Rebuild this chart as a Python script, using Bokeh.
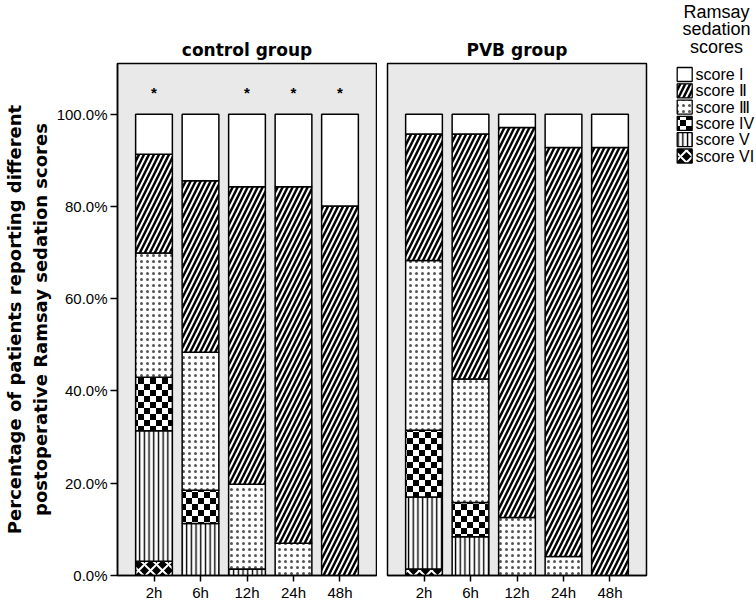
import base64
import struct
import zlib
from bokeh.plotting import figure
from bokeh.models import (ColumnDataSource, FactorRange, Range1d, FixedTicker,
                          PrintfTickFormatter, ImageURLTexture)
from bokeh.layouts import row
from bokeh.core.properties import value
from bokeh.embed import file_html
from bokeh.resources import INLINE

# ---------------- data (percent of patients) ----------------
times = ["2h", "6h", "12h", "24h", "48h"]
score_keys = ["I", "II", "III", "IV", "V", "VI"]
score_names = ["score I", "score Ⅱ", "score Ⅲ", "score IV", "score V", "score VI"]
legend_title = ["Ramsay", "sedation", "scores"]

ctrl_I = [8.7, 14.4, 15.7, 15.7, 19.9]
ctrl_II = [21.4, 37.2, 64.5, 77.3, 80.1]
ctrl_III = [26.9, 29.9, 18.4, 7.0, 0.0]
ctrl_IV = [11.6, 7.2, 0.0, 0.0, 0.0]
ctrl_V = [28.3, 11.3, 1.4, 0.0, 0.0]
ctrl_VI = [3.1, 0.0, 0.0, 0.0, 0.0]

pvb_I = [4.3, 4.3, 2.9, 7.2, 7.2]
pvb_II = [27.4, 53.1, 84.5, 88.7, 92.8]
pvb_III = [36.8, 26.8, 12.6, 4.1, 0.0]
pvb_IV = [14.5, 7.4, 0.0, 0.0, 0.0]
pvb_V = [15.6, 8.4, 0.0, 0.0, 0.0]
pvb_VI = [1.4, 0.0, 0.0, 0.0, 0.0]

ctrl_sig = ["*", "", "*", "*", "*"]
pvb_sig = ["", "", "", "", ""]

y_ticks = [0, 20, 40, 60, 80, 100]

# ---------------- styles ----------------
FONT_BOLD = "DejaVu Sans"
FONT = "Liberation Sans"
PANEL_BG = "#e9e9e9"
H = 603


def _checker_png(n=12, s=6):
    raw = b""
    for yy in range(n):
        line = bytearray([0])
        for xx in range(n):
            v = 0 if ((xx // s) + (yy // s)) % 2 == 0 else 255
            line += bytes([v, v, v])
        raw += bytes(line)

    def chunk(tag, data):
        return (struct.pack(">I", len(data)) + tag + data +
                struct.pack(">I", zlib.crc32(tag + data) & 0xffffffff))

    ihdr = struct.pack(">IIBBBBB", n, n, 8, 2, 0, 0, 0)
    return (b"\x89PNG\r\n\x1a\n" + chunk(b"IHDR", ihdr) +
            chunk(b"IDAT", zlib.compress(raw)) + chunk(b"IEND", b""))


checker = ImageURLTexture(
    url="data:image/png;base64," + base64.b64encode(_checker_png()).decode())
EXTRA = {"checker": checker}

style = {
    "I":   dict(fill="white", hatch=" ", hcolor="black", hweight=1.0, hscale=8),
    "II":  dict(fill="black", hatch="/", hcolor="white", hweight=2.0, hscale=10),
    "III": dict(fill="white", hatch=".", hcolor="#555555", hweight=0.8, hscale=6),
    "IV":  dict(fill="white", hatch="checker", hcolor="black", hweight=1.0, hscale=12),
    "V":   dict(fill="white", hatch="|", hcolor="black", hweight=1.4, hscale=4.7),
    "VI":  dict(fill="black", hatch="x", hcolor="white", hweight=2.0, hscale=12),
}

stack_order = ["VI", "V", "IV", "III", "II", "I"]  # bottom -> top


def make_source(vals, sig):
    d = {"time": times, "sig": sig}
    for k, v in zip(score_keys, vals):
        d[k] = v
    return ColumnDataSource(d)


def make_panel(title, vals, sig, width, border_left, border_right, show_y):
    p = figure(
        x_range=FactorRange(*times, range_padding=0.114),
        y_range=Range1d(0, 111),
        width=width, height=H,
        output_backend="svg", toolbar_location=None,
        min_border_left=border_left, min_border_right=border_right,
        min_border_top=63, min_border_bottom=28,
        title=title,
    )
    p.background_fill_color = PANEL_BG
    p.border_fill_color = "white"
    p.outline_line_color = "black"
    p.outline_line_width = 1.5
    p.xgrid.visible = False
    p.ygrid.visible = False

    p.title.align = "center"
    p.title.text_font = FONT_BOLD
    p.title.text_font_style = "bold"
    p.title.text_font_size = "17px"
    p.title.text_color = "black"
    p.title.standoff = 8

    src = make_source(vals, sig)
    p.vbar_stack(
        stack_order, x="time", width=0.79, source=src,
        fill_color=[style[k]["fill"] for k in stack_order],
        hatch_pattern=[value(style[k]["hatch"]) for k in stack_order],
        hatch_color=[style[k]["hcolor"] for k in stack_order],
        hatch_weight=[style[k]["hweight"] for k in stack_order],
        hatch_scale=[style[k]["hscale"] for k in stack_order],
        hatch_extra=EXTRA,
        line_color="black", line_width=1.5,
    )

    p.text(x="time", y=104.7, text="sig", source=src,
           text_align="center", text_baseline="alphabetic",
           text_font=value(FONT), text_font_size="15px",
           text_font_style="bold", text_color="black")

    xa = p.xaxis[0]
    xa.major_label_text_font = FONT
    xa.major_label_text_font_size = "15px"
    xa.major_label_text_color = "black"
    xa.major_tick_out = 6
    xa.major_tick_in = 0
    xa.major_tick_line_width = 1.5
    xa.major_tick_line_color = "black"
    xa.axis_line_width = 1.5
    xa.axis_line_color = "black"
    xa.major_label_standoff = 2

    ya = p.yaxis[0]
    if show_y:
        ya.ticker = FixedTicker(ticks=y_ticks)
        ya.formatter = PrintfTickFormatter(format="%.1f%%")
        ya.minor_tick_line_color = None
        ya.major_tick_out = 7
        ya.major_tick_in = 0
        ya.major_tick_line_width = 1.5
        ya.major_tick_line_color = "black"
        ya.axis_line_width = 1.5
        ya.axis_line_color = "black"
        ya.major_label_text_font = FONT
        ya.major_label_text_font_size = "15px"
        ya.major_label_text_color = "black"
        ya.major_label_standoff = 3
        ya.axis_label = ("Percentage of patients reporting different\n"
                         "postoperative Ramsay sedation scores")
        ya.axis_label_text_font = FONT_BOLD
        ya.axis_label_text_font_style = "bold"
        ya.axis_label_text_font_size = "18px"
        ya.axis_label_text_color = "black"
        ya.axis_label_standoff = 3
    else:
        ya.visible = False
    return p


ctrl_vals = [ctrl_I, ctrl_II, ctrl_III, ctrl_IV, ctrl_V, ctrl_VI]
pvb_vals = [pvb_I, pvb_II, pvb_III, pvb_IV, pvb_V, pvb_VI]

p1 = make_panel("control group", ctrl_vals, ctrl_sig, 377, 117, 1, True)
p2 = make_panel("PVB group", pvb_vals, pvb_sig, 279, 10, 10, False)

# ---------------- legend panel (screen-like coordinates) ----------------
LX0, LW = 656, 100
p3 = figure(width=LW, height=H, x_range=Range1d(LX0, LX0 + LW), y_range=Range1d(H, 0),
            output_backend="svg", toolbar_location=None,
            x_axis_location=None, y_axis_location=None,
            min_border=0, min_border_left=0, min_border_right=0,
            min_border_top=0, min_border_bottom=0)
p3.frame_align = False
p3.outline_line_color = None
p3.xgrid.visible = False
p3.ygrid.visible = False
p3.background_fill_color = "white"
p3.border_fill_color = "white"

TITLE_X, TITLE_Y0, TITLE_STEP = 716, 11, 17.8
p3.text(x=[TITLE_X] * len(legend_title),
        y=[TITLE_Y0 + i * TITLE_STEP for i in range(len(legend_title))],
        text=legend_title, text_align="center", text_baseline="middle",
        text_font=value(FONT), text_font_size="18px", text_color="black")

ROW_Y0, ROW_STEP = 74, 16.3
leg_src = ColumnDataSource(dict(
    label=score_names,
    y=[ROW_Y0 + i * ROW_STEP for i in range(len(score_names))],
    fill=[style[k]["fill"] for k in score_keys],
    hp=[style[k]["hatch"] for k in score_keys],
    hc=[style[k]["hcolor"] for k in score_keys],
    hw=[style[k]["hweight"] for k in score_keys],
    hs=[style[k]["hscale"] for k in score_keys],
))
p3.rect(x=684.2, y="y", width=15, height=14, source=leg_src,
        fill_color="fill", hatch_pattern="hp", hatch_color="hc",
        hatch_weight="hw", hatch_scale="hs", hatch_extra=EXTRA,
        line_color="black", line_width=1.3)
p3.text(x=695, y="y", text="label", source=leg_src,
        text_align="left", text_baseline="middle",
        text_font=value(FONT), text_font_size="16px", text_color="black")

layout = row(p1, p2, p3)
open("out.html", "w").write(file_html(layout, INLINE))
